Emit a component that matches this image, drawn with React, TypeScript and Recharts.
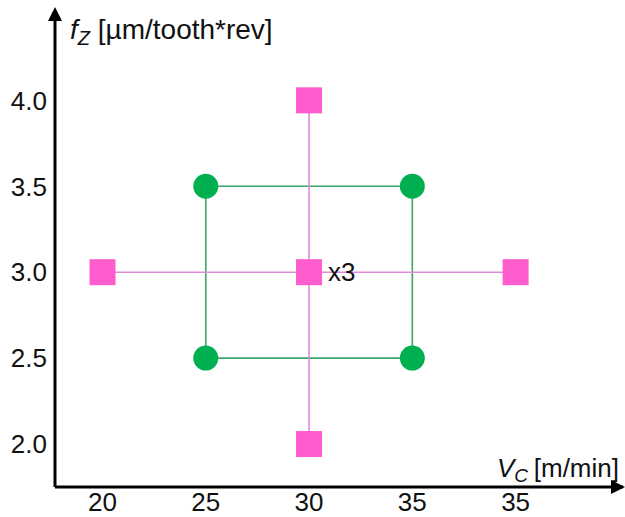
import { ScatterChart, Scatter, XAxis, YAxis, ReferenceDot } from 'recharts';

// cutting speed axis (last label is printed as "35" in the source figure)
const speedTicks = [20, 25, 30, 35, 40];
const speedTickLabels = ['20', '25', '30', '35', '35'];
const feedTicks = [2.0, 2.5, 3.0, 3.5, 4.0];

const factorialPoints = [
  { x: 25, y: 2.5 },
  { x: 25, y: 3.5 },
  { x: 35, y: 3.5 },
  { x: 35, y: 2.5 },
];
const axialPoints = [
  { x: 20, y: 3.0 },
  { x: 40, y: 3.0 },
  { x: 30, y: 2.0 },
  { x: 30, y: 4.0 },
];
const centerPoints = [{ x: 30, y: 3.0, reps: 3 }];

const xDomain = [17.7, 45.2];
const yDomain = [1.75, 4.52];

const PINK = '#ff5ccd';
const PINK_LINE = '#e38ad9';
const GREEN = '#00b050';
const GREEN_LINE = '#3ba66a';
const FONT = '"Liberation Sans", Arial, sans-serif';

const greenLoop = [...factorialPoints, factorialPoints[0]];
const horizLine = axialPoints.slice(0, 2);
const vertLine = axialPoints.slice(2, 4);

const noMarker = () => <g />;

const squareShape = (props: any) => (
  <rect x={props.cx - 13} y={props.cy - 13} width={26} height={26} fill={PINK} />
);

const circleShape = (props: any) => <circle cx={props.cx} cy={props.cy} r={12.5} fill={GREEN} />;

const centerShape = (props: any) => (
  <g>
    <rect x={props.cx - 13} y={props.cy - 13} width={26} height={26} fill={PINK} />
    <text x={props.cx + 19} y={props.cy + 9} fontSize={26} fontFamily={FONT} fill="#111">
      {'x' + props.payload.reps}
    </text>
  </g>
);

const arrowRight = (props: any) => (
  <polygon
    points={`${props.cx + 2},${props.cy} ${props.cx - 12},${props.cy - 7} ${props.cx - 12},${props.cy + 7}`}
    fill="#000"
  />
);

const arrowUp = (props: any) => (
  <polygon
    points={`${props.cx},${props.cy - 4} ${props.cx - 7},${props.cy + 10} ${props.cx + 7},${props.cy + 10}`}
    fill="#000"
  />
);

const yLabel = (props: any) => {
  const vb = props.viewBox;
  return (
    <text x={vb.x + vb.width + 15} y={vb.y + 28} fontSize={28} fontFamily={FONT} fill="#111">
      <tspan fontStyle="italic">f</tspan>
      <tspan fontStyle="italic" fontSize={20} dy={6}>Z</tspan>
      <tspan dy={-6}> [µm/tooth*rev]</tspan>
    </text>
  );
};

const xLabel = (props: any) => {
  const vb = props.viewBox;
  const right = vb.x + vb.width - 4;
  return (
    <g fontFamily={FONT} fill="#111">
      <text x={right - 122} y={vb.y - 10} fontSize={26}>
        <tspan fontStyle="italic">V</tspan>
        <tspan fontStyle="italic" fontSize={19} dy={5}>C</tspan>
      </text>
      <text x={right} y={vb.y - 10} fontSize={26} textAnchor="end">
        [m/min]
      </text>
    </g>
  );
};

export default function App() {
  return (
    <div style={{ position: 'absolute', left: 0, top: 0, background: '#fff' }}>
      <ScatterChart width={625} height={517} margin={{ top: 11, right: 2, bottom: 0, left: 0 }}>
        <XAxis
          type="number"
          dataKey="x"
          domain={xDomain}
          ticks={speedTicks}
          tickFormatter={(v: number, i: number) => speedTickLabels[i]}
          tickLine={false}
          tickMargin={0}
          axisLine={{ stroke: '#000', strokeWidth: 3 }}
          tick={{ fontSize: 26, fontFamily: FONT, fill: '#111' }}
          height={30}
          allowDataOverflow
          label={{ content: xLabel }}
        />
        <YAxis
          type="number"
          dataKey="y"
          domain={yDomain}
          ticks={feedTicks}
          tickFormatter={(v: number) => v.toFixed(1)}
          tickLine={false}
          axisLine={{ stroke: '#000', strokeWidth: 3 }}
          tick={{ fontSize: 26, fontFamily: FONT, fill: '#111' }}
          width={55}
          allowDataOverflow
          label={{ content: yLabel }}
        />
        <Scatter
          data={greenLoop}
          line={{ stroke: GREEN_LINE, strokeWidth: 1.6 }}
          shape={noMarker}
          isAnimationActive={false}
        />
        <Scatter
          data={horizLine}
          line={{ stroke: PINK_LINE, strokeWidth: 1.6 }}
          shape={noMarker}
          isAnimationActive={false}
        />
        <Scatter
          data={vertLine}
          line={{ stroke: PINK_LINE, strokeWidth: 1.6 }}
          shape={noMarker}
          isAnimationActive={false}
        />
        <Scatter data={factorialPoints} shape={circleShape} isAnimationActive={false} />
        <Scatter data={axialPoints} shape={squareShape} isAnimationActive={false} />
        <Scatter data={centerPoints} shape={centerShape} isAnimationActive={false} />
        <ReferenceDot x={xDomain[1]} y={yDomain[0]} ifOverflow="visible" shape={arrowRight} />
        <ReferenceDot x={xDomain[0]} y={yDomain[1]} ifOverflow="visible" shape={arrowUp} />
      </ScatterChart>
    </div>
  );
}
